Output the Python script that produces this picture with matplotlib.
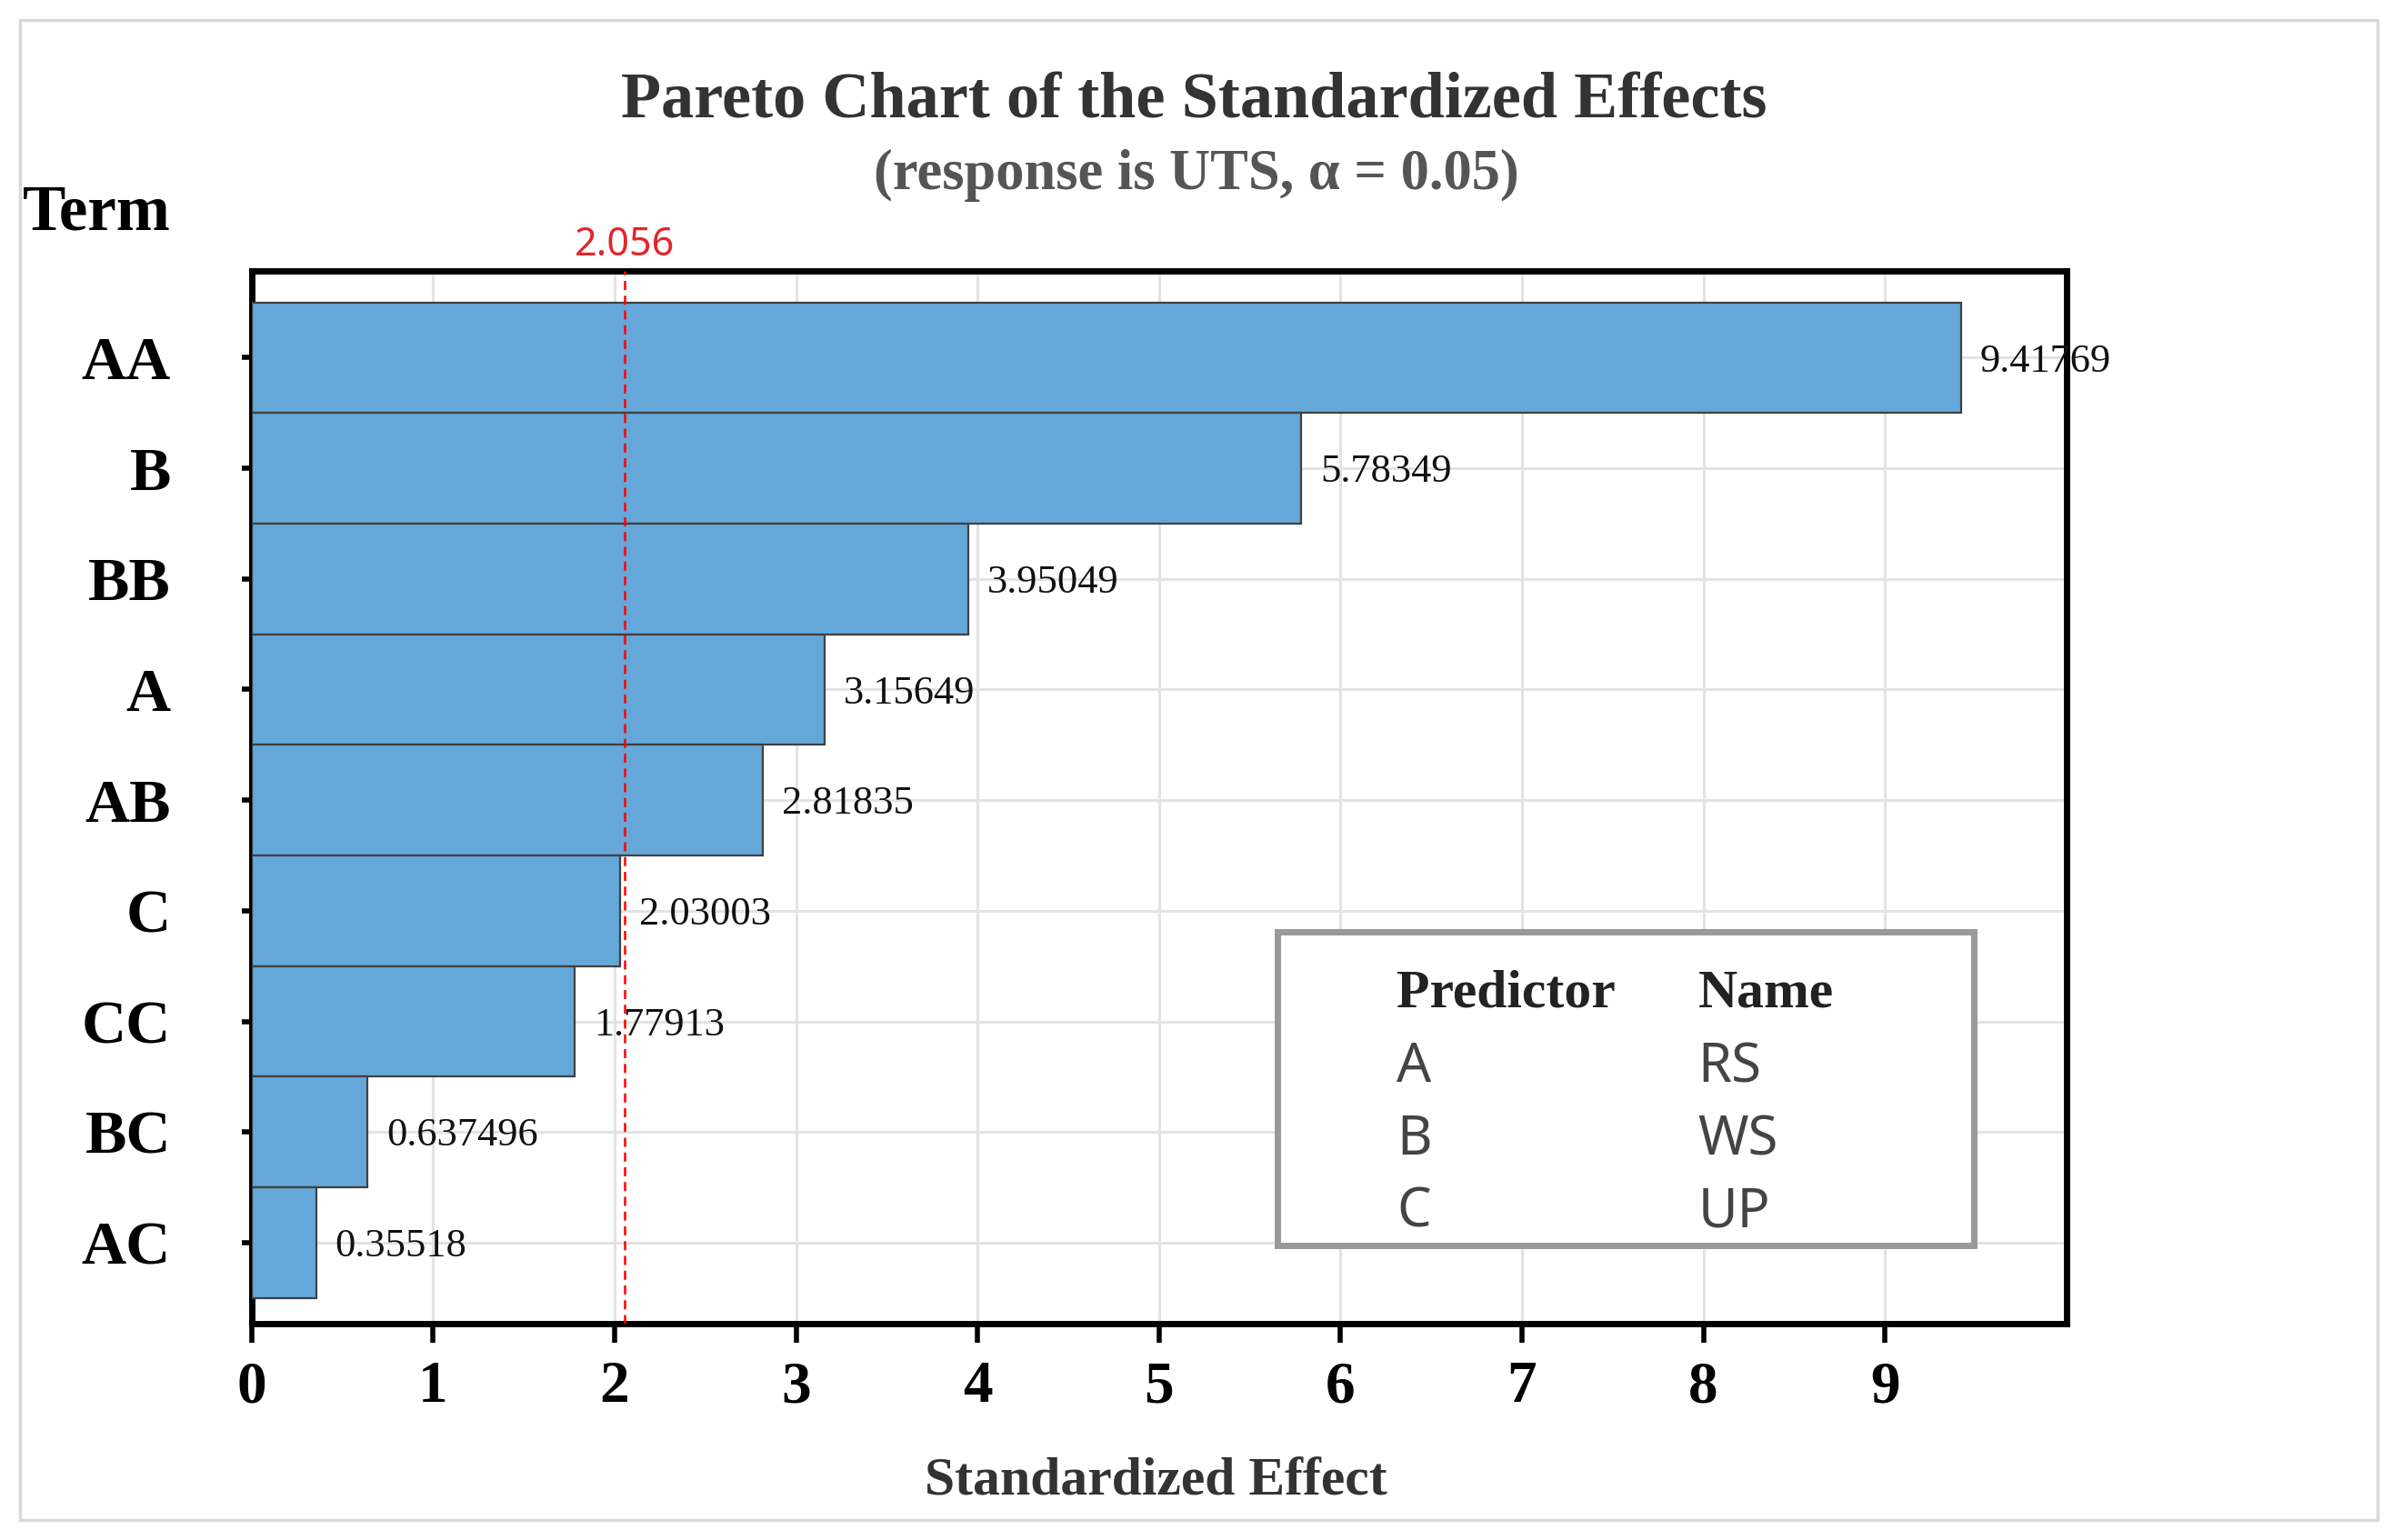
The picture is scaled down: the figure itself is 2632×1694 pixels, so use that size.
import matplotlib
matplotlib.use("Agg")
import matplotlib.pyplot as plt
from matplotlib.patches import Rectangle

# data (top to bottom)
terms = ["AA", "B", "BB", "A", "AB", "C", "CC", "BC", "AC"]
effects = [9.41769, 5.78349, 3.95049, 3.15649, 2.81835, 2.03003, 1.77913, 0.637496, 0.35518]
effect_labels = ["9.41769", "5.78349", "3.95049", "3.15649", "2.81835", "2.03003", "1.77913", "0.637496", "0.35518"]
ref_line = 2.056
x_ticks = [0, 1, 2, 3, 4, 5, 6, 7, 8, 9]
predictors = ["A", "B", "C"]
pred_names = ["RS", "WS", "UP"]

serif = "Liberation Serif"
sans = "Noto Sans"
bar_color = "#65a7d9"

fig = plt.figure(figsize=(26.32, 16.94), dpi=100)
ax = fig.add_axes([0.1052, 0.1406, 0.8635 - 0.1052, 0.8238 - 0.1406])

# light grey outer frame around the whole picture
fig.patches.append(Rectangle((0.0083, 0.0129), 0.9853, 0.974, transform=fig.transFigure,
                             fill=False, edgecolor="#d9d9d9", linewidth=2.5, zorder=0))

ypos = list(range(len(terms) - 1, -1, -1))
ax.barh(ypos, effects, height=1.0, color=bar_color, edgecolor="#404040", linewidth=1.6, zorder=3)

for y, v, lab in zip(ypos, effects, effect_labels):
    ax.annotate(lab, xy=(v, y), xytext=(15, -3), textcoords="offset points",
                ha="left", va="center", fontsize=32, family=serif, color="#111111", zorder=6)

# reference line
ax.axvline(ref_line, color="red", linestyle=(0, (4, 2.5)), linewidth=1.8, zorder=4)
ax.annotate(f"{ref_line:.3f}", xy=(ref_line, 1.0), xycoords=("data", "axes fraction"),
            xytext=(0, 5), textcoords="offset points", ha="center", va="bottom",
            fontsize=31, family=sans, color="#e0262b")

ax.set_xlim(0, 10)
ax.set_ylim(-0.73, 8.78)
ax.set_xticks(x_ticks)
ax.set_xticklabels([str(t) for t in x_ticks], fontsize=47, family=serif, fontweight="bold")
ax.set_yticks(ypos)
ax.set_yticklabels(terms, fontsize=49, family=serif, fontweight="bold")
ax.tick_params(axis="x", length=15, width=4, pad=14)
ax.tick_params(axis="y", length=8, width=4, pad=56)

ax.grid(True, color="#e3e3e3", linewidth=2.2)
ax.set_axisbelow(True)
for s in ax.spines.values():
    s.set_linewidth(5)
    s.set_color("black")

# predictor key box
ax.add_patch(Rectangle((0.565, 0.0739), 0.949 - 0.565, 0.3725 - 0.0739, transform=ax.transAxes,
                       fill=True, facecolor="white", edgecolor="#999999", linewidth=5, zorder=7))
ax.text(0.631, 0.313, "Predictor", transform=ax.transAxes, fontsize=43, family=serif,
        fontweight="bold", color="#222222", va="center", ha="left", zorder=8)
ax.text(0.797, 0.313, "Name", transform=ax.transAxes, fontsize=43, family=serif,
        fontweight="bold", color="#222222", va="center", ha="left", zorder=8)
row_y = [0.2435, 0.174, 0.106]
for ry, p, n in zip(row_y, predictors, pred_names):
    ax.text(0.631, ry, p, transform=ax.transAxes, fontsize=43, family=sans,
            color="#444444", va="center", ha="left", zorder=8)
    ax.text(0.797, ry, n, transform=ax.transAxes, fontsize=43, family=sans,
            color="#444444", va="center", ha="left", zorder=8)

# titles
fig.text(0.499, 0.9337, "Pareto Chart of the Standardized Effects", ha="center", va="center",
         fontsize=52, family=serif, fontweight="bold", color="#333333")
fig.text(0.5, 0.886, "(response is UTS, α = 0.05)", ha="center", va="center",
         fontsize=45, family=serif, fontweight="bold", color="#555555")
fig.text(0.0096, 0.8614, "Term", ha="left", va="center",
         fontsize=51, family=serif, fontweight="bold", color="black")
fig.text(0.483, 0.0376, "Standardized Effect", ha="center", va="center",
         fontsize=43, family=serif, fontweight="bold", color="#333333")

fig.savefig("out.png", dpi=100)
